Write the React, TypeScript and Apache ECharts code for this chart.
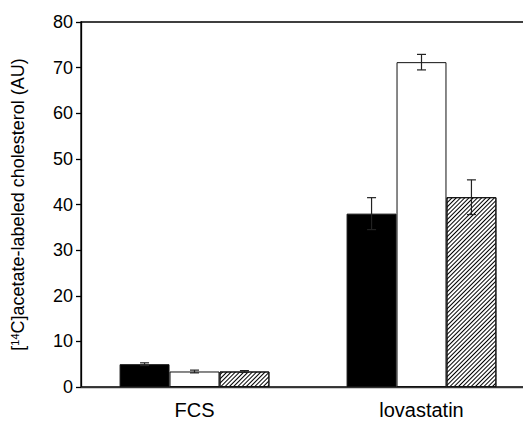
import React, { useEffect, useRef } from "react";
import * as echarts from "echarts";

const categories = ["FCS", "lovastatin"];
const blackValues = [5.0, 38.0];
const blackErr = [0.3, 3.5];
const whiteValues = [3.4, 71.2];
const whiteErr = [0.3, 1.7];
const hatchValues = [3.4, 41.6];
const hatchErr = [0.2, 3.8];
const yTicks = { min: 0, max: 80, interval: 10 };

const GAP = 0.34;

export default function App() {
  const ref = useRef<HTMLDivElement>(null);
  useEffect(() => {
    document.body.style.margin = "0";
    const chart = echarts.init(ref.current!, null, { renderer: "svg" });
    const groups = [
      { values: blackValues, err: blackErr },
      { values: whiteValues, err: whiteErr },
      { values: hatchValues, err: hatchErr },
    ];
    const errData: number[][] = [];
    groups.forEach((g, si) => {
      g.values.forEach((v, ci) => errData.push([ci, v, g.err[ci], si]));
    });
    const barStyle = { borderColor: "#111", borderWidth: 1 };
    chart.setOption({
      animation: false,
      grid: { left: 81, top: 22, width: 454, height: 365, outerBoundsMode: "none", containLabel: false, show: true, borderColor: "#000", borderWidth: 1.3, backgroundColor: "transparent" },
      xAxis: {
        type: "category",
        data: categories,
        axisLine: { lineStyle: { color: "#333", width: 1.3 } },
        axisTick: { inside: true, length: 8, lineStyle: { color: "#000", width: 1.3 } },
        axisLabel: { color: "#000", fontSize: 20, margin: 13, fontFamily: "Liberation Sans, Arial, sans-serif" },
      },
      yAxis: {
        type: "value",
        min: yTicks.min,
        max: yTicks.max,
        interval: yTicks.interval,
        splitLine: { show: false },
        axisLine: { show: true, lineStyle: { color: "#000", width: 1.3 } },
        axisTick: { show: true, length: 5, lineStyle: { color: "#000", width: 1.3 } },
        axisLabel: { color: "#000", fontSize: 18, margin: 8, fontFamily: "Liberation Sans, Arial, sans-serif" },
        name: "[{sup|14}C]acetate-labeled cholesterol (AU)",
        nameLocation: "middle",
        nameGap: 54,
        nameTextStyle: {
          color: "#000",
          fontSize: 18,
          fontFamily: "Liberation Sans, Arial, sans-serif",
          rich: {
            sup: { fontSize: 11, verticalAlign: "top", padding: [0, 0, 7, 0], fontFamily: "Liberation Sans, Arial, sans-serif", color: "#000" },
          },
        },
      },
      series: [
        { type: "bar", data: blackValues, barGap: "0%", barCategoryGap: GAP * 100 + "%", itemStyle: { color: "#000", ...barStyle } },
        { type: "bar", data: whiteValues, barGap: "0%", barCategoryGap: GAP * 100 + "%", itemStyle: { color: "#fff", ...barStyle } },
        {
          type: "bar",
          data: hatchValues,
          barGap: "0%",
          barCategoryGap: GAP * 100 + "%",
          itemStyle: {
            color: "#fff",
            ...barStyle,
            decal: { symbol: "rect", symbolSize: 1, dashArrayX: [1, 0], dashArrayY: [1, 1.7], rotation: -Math.PI / 4, color: "#000", backgroundColor: "#fff" },
          },
        },
        {
          type: "custom",
          data: errData,
          z: 10,
          renderItem: (params: any, api: any) => {
            const ci = api.value(0);
            const v = api.value(1);
            const e = api.value(2);
            const si = api.value(3);
            const band = api.size([1, 0])[0];
            const bw = (band * (1 - GAP)) / 3;
            const center = api.coord([ci, v]);
            const x = center[0] + (si - 1) * bw;
            const yTop = api.coord([ci, v + e])[1];
            const yBot = api.coord([ci, v - e])[1];
            const cap = 4.5;
            const st = { stroke: "#222", lineWidth: 1.2 };
            return {
              type: "group",
              children: [
                { type: "line", shape: { x1: x, y1: yTop, x2: x, y2: yBot }, style: st },
                { type: "line", shape: { x1: x - cap, y1: yTop, x2: x + cap, y2: yTop }, style: st },
                { type: "line", shape: { x1: x - cap, y1: yBot, x2: x + cap, y2: yBot }, style: st },
              ],
            };
          },
        },
      ],
    });
    return () => chart.dispose();
  }, []);
  return <div ref={ref} style={{ width: 523, height: 421 }} />;
}
